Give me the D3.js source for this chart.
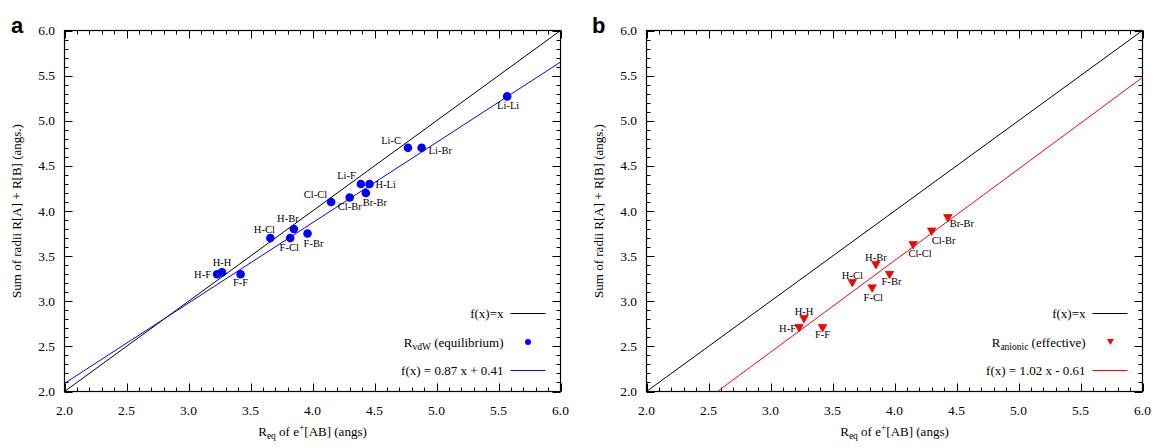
<!DOCTYPE html>
<html>
<head>
<meta charset="utf-8">
<script src="https://cdn.jsdelivr.net/npm/d3@7"></script>
<style>
  html, body { margin: 0; padding: 0; background: #fff; }
  svg { display: block; }
  text { font-family: "Liberation Serif", "DejaVu Serif", serif; fill: #000; }
  text.letter { font-family: "Liberation Sans", Arial, sans-serif; font-weight: bold; }
</style>
</head>
<body>
<svg id="chart" width="1154" height="448"></svg>
<script>
// ---------- data ----------
const xTicks = [2.0, 2.5, 3.0, 3.5, 4.0, 4.5, 5.0, 5.5, 6.0];
const yTicks = [2.0, 2.5, 3.0, 3.5, 4.0, 4.5, 5.0, 5.5, 6.0];

// panel a: van der Waals radii sums (equilibrium)
const labelsA = ["H-F", "H-H", "F-F", "H-Cl", "F-Cl", "H-Br", "F-Br", "Cl-Cl", "Cl-Br", "Li-F", "H-Li", "Br-Br", "Li-C", "Li-Br", "Li-Li"];
const reqA    = [3.23, 3.27, 3.42, 3.66, 3.82, 3.85, 3.96, 4.15, 4.30, 4.39, 4.46, 4.43, 4.77, 4.88, 5.57];
const sumA    = [3.30, 3.32, 3.30, 3.70, 3.70, 3.80, 3.75, 4.10, 4.15, 4.30, 4.30, 4.20, 4.70, 4.70, 5.27];
const fitA    = [0.89, 0.31];   // drawn line (slope, intercept)
const fitLabelA = "f(x) = 0.87 x + 0.41";

// panel b: anionic radii sums (effective)
const labelsB = ["H-F", "H-H", "F-F", "H-Cl", "F-Cl", "H-Br", "F-Br", "Cl-Cl", "Cl-Br", "Br-Br"];
const reqB    = [3.23, 3.27, 3.42, 3.66, 3.82, 3.85, 3.96, 4.15, 4.30, 4.43];
const sumB    = [2.70, 2.80, 2.70, 3.20, 3.14, 3.40, 3.29, 3.62, 3.77, 3.92];
const fitB    = [1.015, -0.61];
const fitLabelB = "f(x) = 1.02 x - 0.61";

// label placement style per point: [anchor, dx, dy]
const placeA = [["end",-6,4],["middle",0,-6],["middle",0,12],["middle",-6,-5],["middle",-1,13],["middle",-6,-7],["middle",6,13],["end",-4,-4],["middle",0,13],["end",-5,-5],["start",6,4],["start",-3,13],["end",-7,-4],["start",7,6],["middle",1,13]];
const placeB = [["end",-3,4],["middle",0,-4],["middle",0,10],["middle",0,-4],["middle",1,12],["middle",0,-4],["middle",2,10],["middle",7,12],["start",0,12],["start",2,9]];

// ---------- drawing ----------
const svg = d3.select("#chart");

function drawPanel(opts) {
  const { left, right, top, bottom, letter, letterX } = opts;
  const x = d3.scaleLinear().domain([2, 6]).range([left, right]);
  const y = d3.scaleLinear().domain([2, 6]).range([bottom, top]);
  const g = svg.append("g");

  const clipId = "clip-" + letter;
  svg.append("clipPath").attr("id", clipId).append("rect")
    .attr("x", left).attr("y", top).attr("width", right - left).attr("height", bottom - top);

  // minor + major ticks on all four sides (inward)
  const minor = d3.range(20, 61).map(v => v / 10);
  const tickG = g.append("g").attr("stroke", "#000").attr("stroke-width", 1);
  minor.forEach(v => {
    const isMajor = Math.abs(v * 2 - Math.round(v * 2)) < 1e-6;
    const len = isMajor ? 8 : 4;
    const px = Math.round(x(v)) + 0.5, py = Math.round(y(v)) + 0.5;
    tickG.append("line").attr("x1", px).attr("x2", px).attr("y1", bottom).attr("y2", bottom - len);
    tickG.append("line").attr("x1", px).attr("x2", px).attr("y1", top).attr("y2", top + len);
    tickG.append("line").attr("y1", py).attr("y2", py).attr("x1", left).attr("x2", left + len);
    tickG.append("line").attr("y1", py).attr("y2", py).attr("x1", right).attr("x2", right - len);
  });

  // tick labels
  g.append("g").selectAll("text").data(xTicks).join("text")
    .attr("x", d => x(d)).attr("y", bottom + 23.5)
    .attr("text-anchor", "middle").attr("font-size", 13.5)
    .text(d => d3.format(".1f")(d));
  g.append("g").selectAll("text").data(yTicks).join("text")
    .attr("x", left - 9.5).attr("y", d => y(d) + 4.5)
    .attr("text-anchor", "end").attr("font-size", 13.5)
    .text(d => d3.format(".1f")(d));

  // frame
  g.append("rect").attr("x", left).attr("y", top).attr("width", right - left).attr("height", bottom - top)
    .attr("fill", "none").attr("stroke", "#000").attr("stroke-width", 1.2);

  // lines
  const lines = g.append("g").attr("clip-path", `url(#${clipId})`);
  lines.append("line")
    .attr("x1", x(2)).attr("y1", y(2)).attr("x2", x(6)).attr("y2", y(6))
    .attr("stroke", "#000").attr("stroke-width", 1);
  const f = v => opts.fit[0] * v + opts.fit[1];
  lines.append("line")
    .attr("x1", x(2)).attr("y1", y(f(2))).attr("x2", x(6)).attr("y2", y(f(6)))
    .attr("stroke", opts.color).attr("stroke-width", 1);

  // points
  const pts = opts.labels.map((l, i) => ({ l, x: opts.xs[i], y: opts.ys[i], p: opts.place[i] }));
  if (opts.marker === "circle") {
    g.append("g").selectAll("circle").data(pts).join("circle")
      .attr("cx", d => x(d.x)).attr("cy", d => y(d.y)).attr("r", 4.3)
      .attr("fill", opts.color);
  } else {
    const tri = (cx, cy, w, h) => `M${cx - w / 2},${cy - h / 2}L${cx + w / 2},${cy - h / 2}L${cx},${cy + h / 2}Z`;
    g.append("g").selectAll("path").data(pts).join("path")
      .attr("d", d => tri(x(d.x), y(d.y), 8.5, 7.5))
      .attr("fill", opts.color).attr("stroke", "#b00000").attr("stroke-width", 0.6);
  }
  g.append("g").selectAll("text").data(pts).join("text")
    .attr("x", d => x(d.x) + d.p[1]).attr("y", d => y(d.y) + d.p[2])
    .attr("text-anchor", d => d.p[0]).attr("font-size", 10.5)
    .text(d => d.l);

  // legend
  const lx1 = right - 50, lx2 = right - 15, tx = right - 57;
  const rows = [313, 342, 370];
  g.append("text").attr("x", tx).attr("y", rows[0] + 4.5).attr("text-anchor", "end").attr("font-size", 13).text("f(x)=x");
  g.append("line").attr("x1", lx1).attr("x2", lx2).attr("y1", rows[0] + 0.5).attr("y2", rows[0] + 0.5).attr("stroke", "#000");
  const t2 = g.append("text").attr("x", tx).attr("y", rows[1] + 4.5).attr("text-anchor", "end").attr("font-size", 13);
  t2.append("tspan").text("R");
  t2.append("tspan").attr("font-size", 9.5).attr("dy", 3).text(opts.sub);
  t2.append("tspan").attr("dy", -3).text(" " + opts.legendName);
  if (opts.marker === "circle") {
    g.append("circle").attr("cx", (lx1 + lx2) / 2).attr("cy", rows[1]).attr("r", 3).attr("fill", opts.color);
  } else {
    const cx = (lx1 + lx2) / 2 + 0.5, cy = rows[1];
    g.append("path").attr("d", `M${cx - 3.5},${cy - 3}L${cx + 3.5},${cy - 3}L${cx},${cy + 3}Z`).attr("fill", opts.color);
  }
  g.append("text").attr("x", tx).attr("y", rows[2] + 4.5).attr("text-anchor", "end").attr("font-size", 13).text(opts.fitLabel);
  g.append("line").attr("x1", lx1).attr("x2", lx2).attr("y1", rows[2] + 0.5).attr("y2", rows[2] + 0.5).attr("stroke", opts.color);

  // axis titles
  const xt = g.append("text").attr("x", (left + right) / 2).attr("y", 436).attr("text-anchor", "middle").attr("font-size", 13);
  xt.append("tspan").text("R");
  xt.append("tspan").attr("font-size", 9.5).attr("dy", 3).text("eq");
  xt.append("tspan").attr("dy", -3).text(" of e");
  xt.append("tspan").attr("font-size", 9.5).attr("dy", -5).text("+");
  xt.append("tspan").attr("dy", 5).text("[AB] (angs)");

  g.append("text")
    .attr("transform", `translate(${left - 44},${(top + bottom) / 2}) rotate(-90)`)
    .attr("text-anchor", "middle").attr("font-size", 13)
    .text("Sum of radii R[A] + R[B] (angs.)");

  // panel letter
  g.append("text").attr("class", "letter").attr("x", letterX).attr("y", 33)
    .attr("font-size", 22)
    .text(letter);
}

drawPanel({
  left: 64.5, right: 560.5, top: 30.5, bottom: 391.5, letter: "a", letterX: 11,
  labels: labelsA, xs: reqA, ys: sumA, place: placeA, fit: fitA, fitLabel: fitLabelA,
  color: "#0000ff", marker: "circle", sub: "vdW", legendName: "(equilibrium)"
});
drawPanel({
  left: 646.5, right: 1142.5, top: 30.5, bottom: 391.5, letter: "b", letterX: 592,
  labels: labelsB, xs: reqB, ys: sumB, place: placeB, fit: fitB, fitLabel: fitLabelB,
  color: "#ff0000", marker: "triangle", sub: "anionic", legendName: "(effective)"
});
</script>
</body>
</html>
